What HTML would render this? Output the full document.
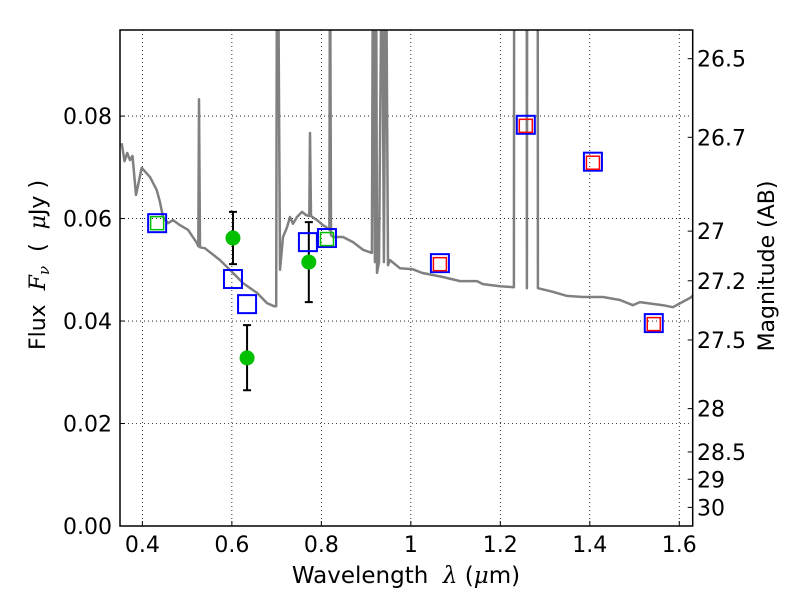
<!DOCTYPE html>
<html><head><meta charset="utf-8"><style>
body{margin:0;background:#fff}
svg{display:block;font-family:"DejaVu Sans","Liberation Sans",sans-serif}
</style></head><body>
<svg id="chart" width="800" height="600" viewBox="0 0 800 600" xmlns="http://www.w3.org/2000/svg"></svg>
<script>
const specWave=[0.3538,0.3600,0.3660,0.3723,0.3780,0.3857,0.3985,0.4170,0.4320,0.4394,0.4461,0.4573,0.4684,0.4841,0.5020,0.5221,0.5250,0.5266,0.5288,0.5399,0.5735,0.6025,0.6249,0.6561,0.6785,0.6941,0.6990,0.7008,0.7030,0.7075,0.7142,0.7232,0.7299,0.7366,0.7455,0.7567,0.7656,0.7730,0.7746,0.7770,0.7902,0.8036,0.8148,0.8180,0.8193,0.8215,0.8260,0.8483,0.8707,0.8930,0.9131,0.9154,0.9198,0.9221,0.9243,0.9288,0.9355,0.9399,0.9444,0.9489,0.9534,0.9757,1.0047,1.0249,1.0718,1.1098,1.1478,1.1612,1.1992,1.2304,1.2310,1.2590,1.2595,1.2600,1.2835,1.2841,1.3176,1.3489,1.3846,1.4293,1.4673,1.4964,1.5120,1.5634,1.5858,1.6238,1.6300];
const specFlux=[0.0747,0.0712,0.0728,0.0714,0.0722,0.0646,0.0699,0.0681,0.0656,0.0632,0.0603,0.0591,0.0597,0.0587,0.0578,0.0552,0.0546,0.0833,0.0544,0.0542,0.0519,0.0494,0.0474,0.0455,0.0435,0.0429,0.0429,0.12,0.12,0.0500,0.0564,0.0583,0.0603,0.0590,0.0603,0.0613,0.0607,0.0605,0.0767,0.0605,0.0597,0.0587,0.0581,0.0578,0.12,0.0568,0.0564,0.0564,0.0554,0.0539,0.0533,0.12,0.0515,0.12,0.0494,0.0515,0.12,0.0515,0.12,0.0509,0.0519,0.0503,0.0501,0.0494,0.0486,0.0478,0.0478,0.0472,0.0468,0.0466,0.12,0.12,0.0464,0.12,0.12,0.0464,0.0457,0.0449,0.0447,0.0447,0.0441,0.0431,0.0437,0.0431,0.0427,0.0445,0.0449];
const bandWave=[0.433,0.6025,0.634,0.770,0.8126,1.065,1.257,1.407,1.543];
const bandFlux=[0.0591,0.0482,0.0433,0.0554,0.0562,0.0513,0.0783,0.0711,0.0396];
const redWave=[1.065,1.257,1.407,1.543];
const redFlux=[0.0511,0.0781,0.0709,0.0394];
const greenSqWave=[0.433,0.8126];
const greenSqFlux=[0.0591,0.0560];
const obsWave=[0.6025,0.634,0.772];
const obsFlux=[0.0562,0.0328,0.0515];
const obsLo=[0.0511,0.0265,0.0437];
const obsHi=[0.0613,0.0392,0.0593];
const xTicks=[0.4,0.6,0.8,1.0,1.2,1.4,1.6];
const xTickLabels=["0.4","0.6","0.8","1","1.2","1.4","1.6"];
const yTicks=[0,0.02,0.04,0.06,0.08];
const yTickLabels=["0.00","0.02","0.04","0.06","0.08"];
const magTicks=[26.5,26.7,27,27.2,27.5,28,28.5,29,30];
const magTickLabels=["26.5","26.7","27","27.2","27.5","28","28.5","29","30"];

const L=120,R=692.7,T=30,B=526,XMIN=0.35,XMAX=1.63,YMIN=0,YMAX=0.0968;
const X=v=>L+(v-XMIN)/(XMAX-XMIN)*(R-L);
const Y=v=>B-(v-YMIN)/(YMAX-YMIN)*(B-T);
const NS="http://www.w3.org/2000/svg";
const svg=document.getElementById('chart');
function mk(tag,attrs,parent){const e=document.createElementNS(NS,tag);for(const k in attrs)e.setAttribute(k,attrs[k]);(parent||svg).appendChild(e);return e;}

const defs=mk('defs',{});
const cp=mk('clipPath',{id:'clip'},defs);
mk('rect',{x:L,y:T,width:R-L,height:B-T},cp);

xTicks.forEach((t,i)=>{
  const g=mk('line',{x1:X(t),x2:X(t),y1:T,y2:B,stroke:'#000','stroke-width':0.8,'stroke-dasharray':'1,3'});
  
  
  const tk=mk('line',{x1:X(t),x2:X(t),y1:B,y2:B-5,stroke:'#000'});
  
  
  const lb=mk('text',{x:X(t),y:552,'font-size':22,'text-anchor':'middle'});
  lb.textContent=xTickLabels[i];
  
  
});
yTicks.forEach((t,i)=>{
  if(t>0){
  const g=mk('line',{x1:L,x2:R,y1:Y(t),y2:Y(t),stroke:'#000','stroke-width':0.8,'stroke-dasharray':'1,3'});
  
  }
  const tk=mk('line',{x1:L,x2:L+5,y1:Y(t),y2:Y(t),stroke:'#000'});
  
  
  const lb=mk('text',{x:112,y:Y(t)+8,'font-size':22,'text-anchor':'end'});
  lb.textContent=yTickLabels[i];
  
  
});
magTicks.forEach((m,i)=>{
  const f=Math.pow(10,(23.9-m)/2.5);
  const y=Y(f);
  const tk=mk('line',{x1:R-5,x2:R,y1:y,y2:y,stroke:'#000'});
  
  
  const lb=mk('text',{x:697,y:y+8,'font-size':22});
  lb.textContent=magTickLabels[i];
  
  
});

const gClip=mk('g',{'clip-path':'url(#clip)'});
const pts=specWave.map((w,i)=>X(w).toFixed(1)+','+Y(specFlux[i]).toFixed(1)).join(' ');
const sp=mk('polyline',{points:pts,fill:'none',stroke:'#808080','stroke-width':2.5,'stroke-linejoin':'round'},gClip);



obsWave.forEach((w,i)=>{
  const x=X(w);
  const e=mk('path',{d:`M${x},${Y(obsLo[i])}V${Y(obsHi[i])}M${x-4},${Y(obsLo[i])}h8M${x-4},${Y(obsHi[i])}h8`,stroke:'#000','stroke-width':2,fill:'none'},gClip);
  
  
});
obsWave.forEach((w,i)=>{
  const c=mk('circle',{cx:X(w),cy:Y(obsFlux[i]),r:7.5,fill:'#00c000'},gClip);
  
  
});
bandWave.forEach((w,i)=>{
  const r=mk('rect',{x:X(w)-9,y:Y(bandFlux[i])-9,width:18,height:18,fill:'none',stroke:'#0000ff','stroke-width':2},gClip);
  
  
});
redWave.forEach((w,i)=>{
  const r=mk('rect',{x:X(w)-6.5,y:Y(redFlux[i])-6.5,width:13,height:13,fill:'none',stroke:'#ff0000','stroke-width':1.5},gClip);
  
  
});
greenSqWave.forEach((w,i)=>{
  const r=mk('rect',{x:X(w)-6.5,y:Y(greenSqFlux[i])-6.5,width:13,height:13,fill:'none',stroke:'#00c000','stroke-width':1.5},gClip);
  
  
});

const fr=mk('rect',{x:L,y:T,width:R-L,height:B-T,fill:'none',stroke:'#000','stroke-width':1.5});


</script>
<svg style="position:absolute;left:0;top:0" width="800" height="600">
<text x="406" y="583" font-size="23" text-anchor="middle" font-family="DejaVu Sans,sans-serif" xml:space="preserve">Wavelength  <tspan font-family="DejaVu Serif,serif" font-style="italic">λ</tspan> (<tspan font-family="DejaVu Serif,serif" font-style="italic">μ</tspan>m)</text>
<text transform="translate(45,265) rotate(-90)" font-size="22" text-anchor="middle" font-family="DejaVu Sans,sans-serif" xml:space="preserve">Flux  <tspan font-family="DejaVu Serif,serif" font-style="italic">F<tspan font-size="15" dy="4">ν</tspan></tspan><tspan dy="-4">  (  </tspan><tspan font-family="DejaVu Serif,serif" font-style="italic">μ</tspan>Jy )</text>
<text transform="translate(774,266) rotate(-90)" font-size="22" text-anchor="middle" font-family="DejaVu Sans,sans-serif">Magnitude (AB)</text>
</svg>
</body></html>
